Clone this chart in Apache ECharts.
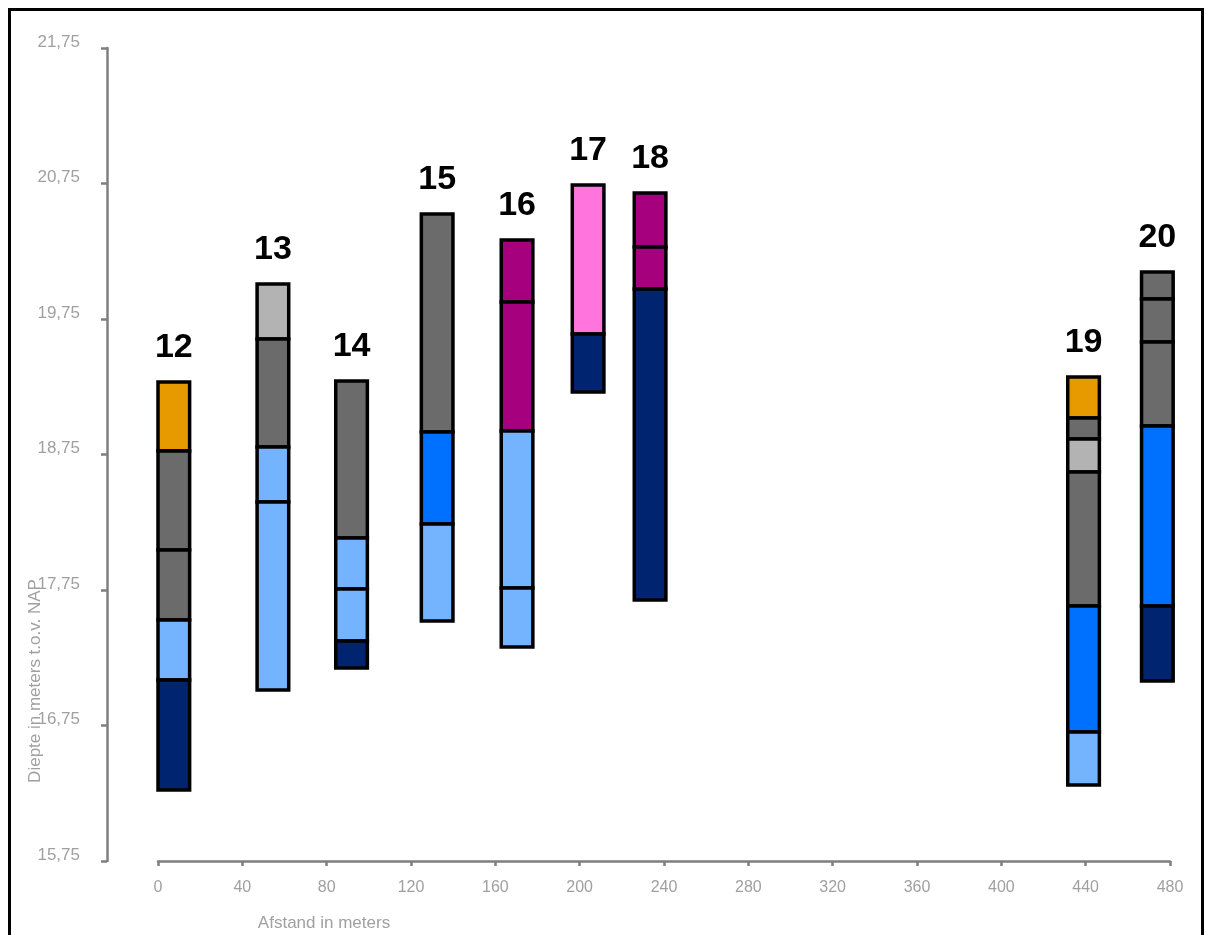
<!DOCTYPE html>
<html>
<head>
<meta charset="utf-8">
<script src="https://cdn.jsdelivr.net/npm/echarts@6/dist/echarts.min.js"></script>
<style>
html,body{margin:0;padding:0;background:#fff;}
#chart{width:1206px;height:935px;}
</style>
</head>
<body>
<div id="chart"></div>
<script>
// Borehole names and their distance (centre, metres)
const boreholes = ['12', '13', '14', '15', '16', '17', '18', '19', '20'];
const boreX = [7.5, 54.5, 91.8, 132.4, 170.3, 204, 233.4, 439, 474];
// Layer boundaries (m t.o.v. NAP), top to bottom, per borehole
const boundaries = [
  [19.285, 18.776, 18.045, 17.529, 17.086, 16.274],
  [20.008, 19.602, 18.805, 18.399, 17.012],
  [19.292, 18.134, 17.757, 17.374, 17.174],
  [20.525, 18.916, 18.237, 17.521],
  [20.333, 19.875, 18.923, 17.765, 17.329],
  [20.739, 19.639, 19.211],
  [20.680, 20.281, 19.971, 17.676],
  [19.322, 19.019, 18.864, 18.621, 17.632, 16.702, 16.311],
  [20.097, 19.898, 19.580, 18.960, 17.632, 17.078]
];
// Soil type of each layer, per borehole
const soils = [
  ['orange', 'darkgray', 'darkgray', 'lightblue', 'navy'],
  ['lightgray', 'darkgray', 'lightblue', 'lightblue'],
  ['darkgray', 'lightblue', 'lightblue', 'navy'],
  ['darkgray', 'blue', 'lightblue'],
  ['purple', 'purple', 'lightblue', 'lightblue'],
  ['pink', 'navy'],
  ['purple', 'purple', 'navy'],
  ['orange', 'darkgray', 'lightgray', 'darkgray', 'blue', 'lightblue'],
  ['darkgray', 'darkgray', 'darkgray', 'blue', 'navy']
];
const soilColors = {
  orange: '#E69A00', darkgray: '#6B6B6B', lightgray: '#B3B3B3',
  lightblue: '#74B4FF', blue: '#0070FF', navy: '#002470',
  purple: '#A6007F', pink: '#FF75DD'
};
const colWidth = 15; // metres
const yTicks = [15.75, 16.75, 17.75, 18.75, 19.75, 20.75, 21.75];
const xTicks = [0, 40, 80, 120, 160, 200, 240, 280, 320, 360, 400, 440, 480];

const layerData = [];
boreholes.forEach((b, i) => {
  const bd = boundaries[i];
  for (let k = 0; k < bd.length - 1; k++) {
    layerData.push([boreX[i], bd[k], bd[k + 1], soils[i][k]]);
  }
});
const labelData = boreholes.map((b, i) => [boreX[i], boundaries[i][0], b]);

const chart = echarts.init(document.getElementById('chart'));
chart.setOption({
  animation: false,
  grid: {left: 158, right: 36, top: 48, bottom: 74},
  xAxis: {
    type: 'value', min: 0, max: 480, interval: 40,
    axisLine: {show: true, onZero: false, lineStyle: {color: '#7f7f7f', width: 2.5}},
    axisTick: {show: true, length: 5, lineStyle: {color: '#7f7f7f', width: 2.5}},
    axisLabel: {color: '#a0a0a0', fontSize: 16, margin: 19, fontFamily: 'Liberation Sans'},
    splitLine: {show: false}
  },
  yAxis: {
    type: 'value', min: 15.75, max: 21.75, interval: 1, offset: 51,
    axisLine: {show: true, onZero: false, lineStyle: {color: '#7f7f7f', width: 2.5}},
    axisTick: {show: true, length: 6, lineStyle: {color: '#7f7f7f', width: 2.5}},
    axisLabel: {color: '#a0a0a0', fontSize: 17, margin: 27, verticalAlign: 'bottom', lineHeight: 12,
      fontFamily: 'Liberation Sans',
      formatter: v => v.toFixed(2).replace('.', ',')},
    splitLine: {show: false}
  },
  graphic: [
    {type: 'rect', shape: {x: 9.5, y: 9.5, width: 1193, height: 960}, style: {fill: 'none', stroke: '#000', lineWidth: 3}, silent: true},
    {type: 'text', x: 35, y: 681, rotation: Math.PI / 2,
      style: {text: 'Diepte in meters t.o.v. NAP', fill: '#a0a0a0', font: '17px "Liberation Sans"', align: 'center', verticalAlign: 'middle'}},
    {type: 'text', x: 324, y: 923,
      style: {text: 'Afstand in meters', fill: '#a0a0a0', font: '17px "Liberation Sans"', align: 'center', verticalAlign: 'middle'}}
  ],
  series: [
    {
      type: 'custom',
      data: layerData,
      encode: {x: 0, y: [1, 2]},
      renderItem: function (params, api) {
        const x = api.value(0);
        const p1 = api.coord([x - colWidth / 2, api.value(1)]);
        const p2 = api.coord([x + colWidth / 2, api.value(2)]);
        const soil = layerData[params.dataIndex][3];
        return {
          type: 'rect',
          shape: {x: p1[0], y: p1[1], width: p2[0] - p1[0], height: p2[1] - p1[1]},
          style: {fill: soilColors[soil], stroke: '#000', lineWidth: 3.5}
        };
      }
    },
    {
      type: 'custom',
      data: labelData,
      encode: {x: 0, y: 1},
      renderItem: function (params, api) {
        const p = api.coord([api.value(0), api.value(1)]);
        return {
          type: 'text',
          x: p[0], y: p[1] - 17,
          style: {text: labelData[params.dataIndex][2], fill: '#000',
            font: 'bold 34px "Liberation Sans"', align: 'center', verticalAlign: 'bottom'}
        };
      }
    }
  ]
});
</script>
</body>
</html>
